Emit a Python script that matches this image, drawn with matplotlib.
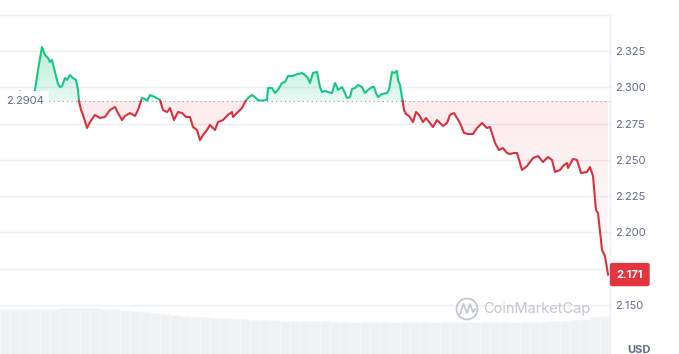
import numpy as np
import matplotlib
matplotlib.use("Agg")
import matplotlib.pyplot as plt
from matplotlib import transforms
from matplotlib.colors import to_rgb
from matplotlib.patches import Circle
from matplotlib.lines import Line2D
from matplotlib.path import Path

plt.rcParams['font.family'] = ['Inter', 'DejaVu Sans']

# time steps (one step ~ 2.4 min over the 24h window) and price in USD
t = [0, 8, 15, 20, 27, 33, 35, 38, 42, 45, 48, 50, 52, 55, 58, 60, 62, 65, 67, 70,
     73, 76, 78, 79, 81, 83, 87, 90, 95, 100, 105, 110, 115, 118, 122, 125, 130, 135, 138, 142,
     145, 147, 150, 155, 160, 163, 167, 170, 174, 178, 182, 186, 190, 193, 197, 200, 203, 207, 210, 215,
     218, 223, 228, 232, 233, 238, 242, 245, 248, 252, 255, 258, 262, 267, 268, 272, 275, 278, 282, 285,
     288, 292, 295, 298, 302, 305, 308, 310, 313, 317, 318, 320, 322, 325, 328, 332, 335, 337, 338, 342,
     345, 347, 350, 352, 355, 358, 362, 365, 368, 372, 374, 376, 378, 382, 387, 389, 392, 394, 397, 398,
     400, 402, 404, 406, 409, 413, 416, 419, 423, 426, 430, 433, 437, 440, 443, 447, 450, 454, 457, 460,
     464, 468, 473, 477, 482, 487, 490, 495, 499, 503, 507, 510, 514, 517, 522, 527, 533, 538, 543, 548,
     552, 555, 560, 564, 567, 568, 573, 577, 581, 587, 590, 593, 596, 598, 602, 605, 608]
price = [2.2930, 2.2945, 2.2938, 2.2972, 2.2940, 2.2950, 2.2981, 2.3118, 2.3277, 2.3222,
         2.3201, 2.3174, 2.3187, 2.3105, 2.3022, 2.3001, 2.3008, 2.3063, 2.3050, 2.3084,
         2.3063, 2.3050, 2.2981, 2.2905, 2.2843, 2.2809, 2.2719, 2.2760, 2.2809, 2.2788,
         2.2795, 2.2843, 2.2864, 2.2822, 2.2774, 2.2802, 2.2822, 2.2802, 2.2843, 2.2926,
         2.2919, 2.2906, 2.2946, 2.2932, 2.2912, 2.2843, 2.2829, 2.2857, 2.2774, 2.2829,
         2.2822, 2.2795, 2.2795, 2.2726, 2.2705, 2.2636, 2.2671, 2.2705, 2.2740, 2.2705,
         2.2760, 2.2774, 2.2809, 2.2829, 2.2795, 2.2829, 2.2857, 2.2898, 2.2926, 2.2946,
         2.2932, 2.2910, 2.2908, 2.2912, 2.2994, 2.2994, 2.2960, 2.2981, 2.3029, 2.3036,
         2.3077, 2.3077, 2.3084, 2.3091, 2.3098, 2.3084, 2.3063, 2.3029, 2.3098, 2.3105,
         2.3070, 2.3001, 2.2967, 2.2974, 2.2967, 2.2960, 2.3029, 2.3001, 2.2981, 2.3001,
         2.2960, 2.2926, 2.2932, 2.2988, 2.2994, 2.3015, 2.3001, 2.2960, 2.2981, 2.3001,
         2.3001, 2.2960, 2.2932, 2.2953, 2.2960, 2.2981, 2.3105, 2.3098, 2.3112, 2.3050,
         2.3015, 2.2932, 2.2843, 2.2815, 2.2802, 2.2760, 2.2829, 2.2809, 2.2760, 2.2788,
         2.2753, 2.2726, 2.2774, 2.2753, 2.2733, 2.2753, 2.2809, 2.2822, 2.2788, 2.2753,
         2.2685, 2.2678, 2.2678, 2.2719, 2.2753, 2.2719, 2.2726, 2.2616, 2.2567, 2.2581,
         2.2547, 2.2540, 2.2547, 2.2547, 2.2430, 2.2457, 2.2512, 2.2526, 2.2485, 2.2519,
         2.2499, 2.2416, 2.2430, 2.2464, 2.2478, 2.2444, 2.2506, 2.2499, 2.2409, 2.2416,
         2.2450, 2.2388, 2.2154, 2.2134, 2.1879, 2.1837, 2.1710]
ref_price = 2.2904
last_price = 2.171

# volume (millions), one bar per 10 steps
volume = [4.5, 4.5, 4.5, 4.5, 4.55, 4.55, 4.6, 4.6, 4.6, 4.6, 4.55, 4.5, 4.4, 4.3, 4.2,
          4.1, 4.0, 3.9, 3.8, 3.75, 3.7, 3.65, 3.6, 3.55, 3.5, 3.45, 3.4, 3.4, 3.35, 3.35,
          3.3, 3.3, 3.3, 3.25, 3.25, 3.25, 3.2, 3.2, 3.2, 3.2, 3.2, 3.2, 3.2, 3.2, 3.2,
          3.2, 3.2, 3.2, 3.2, 3.2, 3.2, 3.2, 3.2, 3.25, 3.25, 3.3, 3.35, 3.45, 3.55, 3.7, 3.85]
vol_t = np.arange(len(volume)) * 10 + 5

y_ticks = [2.150, 2.175, 2.200, 2.225, 2.250, 2.275, 2.300, 2.325]

GREEN = '#16c784'
RED = '#d9313f'
TAG_RED = '#e3343f'
GRID = '#eceff3'
TEXT = '#616e85'

fig = plt.figure(figsize=(6.79, 3.54), dpi=100)
rect = [0, 0, 610 / 679, 340 / 354]

# volume underneath
vax = fig.add_axes(rect, zorder=0)
vax.bar(vol_t, volume, width=10, color='#eff2f5', edgecolor='#f6f8fa', linewidth=0.6)
vax.set_xlim(0, 610)
vax.set_ylim(0, 34)
vax.axis('off')

ax = fig.add_axes(rect, zorder=1)
ax.patch.set_alpha(0)

# add crossing points so the two colours meet at the reference line
t_arr = np.array(t, float)
p_arr = np.array(price)
tt, pp = [t_arr[0]], [p_arr[0]]
for i in range(1, len(t_arr)):
    a, b = p_arr[i - 1] - ref_price, p_arr[i] - ref_price
    if a * b < 0:
        f = a / (a - b)
        tt.append(t_arr[i - 1] + f * (t_arr[i] - t_arr[i - 1]))
        pp.append(ref_price)
    tt.append(t_arr[i])
    pp.append(p_arr[i])
tt = np.array(tt)
pp = np.array(pp)


def gradient_fill(where, color, a_top, a_bot, y_top, y_bot):
    poly = ax.fill_between(tt, pp, ref_price, where=where, facecolor='none',
                           edgecolor='none', interpolate=True)
    path = Path.make_compound_path(*poly.get_paths())
    rgba = np.zeros((256, 1, 4))
    rgba[..., :3] = to_rgb(color)
    rgba[..., 3] = np.linspace(a_top, a_bot, 256)[:, None]
    im = ax.imshow(rgba, extent=[0, 610, y_bot, y_top], aspect='auto',
                   origin='upper', zorder=1, interpolation='bilinear')
    im.set_clip_path(path, transform=ax.transData)


gradient_fill(pp >= ref_price, GREEN, 0.32, 0.10, 2.33, ref_price)
gradient_fill(pp <= ref_price, '#ea3943', 0.10, 0.02, ref_price, 2.17)

ax.plot(tt, np.where(pp >= ref_price, pp, np.nan), color=GREEN, lw=1.5, zorder=4,
        solid_joinstyle='round')
ax.plot(tt, np.where(pp <= ref_price, pp, np.nan), color=RED, lw=1.5, zorder=4,
        solid_joinstyle='round')

ax.axhline(ref_price, color='#8f98a6', lw=0.8, ls=(0, (1, 3)), zorder=3)
ax.axhline(2.350, color=GRID, lw=1, zorder=0)

ax.set_xlim(0, 610)
ax.set_ylim(2.1163, 2.3504)
ax.set_yticks(y_ticks)
ax.grid(axis='y', color=GRID, lw=1, zorder=0)
ax.set_axisbelow(True)
ax.set_xticks([])
ax.yaxis.tick_right()
ax.tick_params(axis='y', length=0, pad=4, labelsize=8, labelcolor=TEXT)
ax.set_yticklabels(['' if abs(v - 2.175) < 1e-9 else f'{v:.3f}' for v in y_ticks])
for s in ['top', 'left', 'bottom']:
    ax.spines[s].set_visible(False)
ax.spines['right'].set_color(GRID)
ax.spines['right'].set_linewidth(1)

# reference price label
ax.text(6, ref_price, '2.2904', ha='left', va='center', fontsize=8, color=TEXT, zorder=6,
        bbox=dict(fc='white', ec='none', boxstyle='square,pad=0.5'))

# last price tag
trans = transforms.blended_transform_factory(ax.transAxes, ax.transData) + \
    transforms.ScaledTranslation(6.5 / 100, 0, fig.dpi_scale_trans)
ax.text(1.0, last_price, f'{last_price:.3f}', transform=trans, ha='left', va='center',
        fontsize=8, fontweight='bold', color='white', zorder=7, clip_on=False,
        bbox=dict(fc=TAG_RED, ec='none', boxstyle='round,pad=0.6,rounding_size=0.2'))

# watermark
fig.text(483 / 679, 1 - 309 / 354, 'CoinMarketCap', fontsize=10.5, color='#c3c8cf',
         ha='left', va='center', zorder=5)
ident = transforms.IdentityTransform()
fig.add_artist(Circle((467, 354 - 309), 10.5, transform=ident, fill=False,
                      ec='#c3c8cf', lw=1.3, zorder=5))
fig.add_artist(Line2D([460, 463.5, 467, 470, 473, 475], [40, 50, 41, 50, 42, 45],
                      transform=ident, color='#c3c8cf', lw=1.3, zorder=5))

fig.text(639 / 679, 1 - 345 / 354, 'USD', fontsize=8, fontweight='bold', color=TEXT,
         ha='center', va='top')

fig.savefig('out.png', dpi=100)
